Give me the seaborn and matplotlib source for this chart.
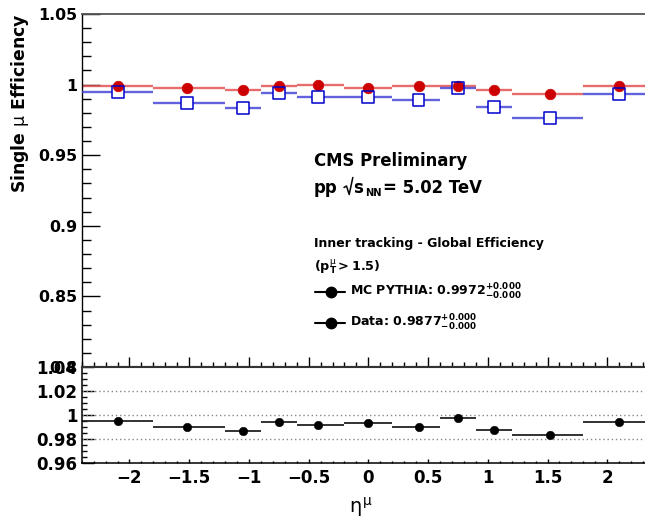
import numpy as np
import pandas as pd
import matplotlib
matplotlib.use("Agg")
import matplotlib.pyplot as plt
import seaborn as sns
from matplotlib.lines import Line2D
from matplotlib.ticker import FixedLocator, FixedFormatter, MultipleLocator

# ---------------- data ----------------
bin_lo = [-2.4, -1.8, -1.2, -0.9, -0.6, -0.2, 0.2, 0.6, 0.9, 1.2, 1.8]
bin_hi = [-1.8, -1.2, -0.9, -0.6, -0.2, 0.2, 0.6, 0.9, 1.2, 1.8, 2.4]
eta_points = [-2.1, -1.52, -1.05, -0.75, -0.42, 0.0, 0.42, 0.75, 1.05, 1.52, 2.1]
eff_mc = [0.9992, 0.9973, 0.9964, 0.9993, 0.9995, 0.9976, 0.9990, 0.9990, 0.9962, 0.9931, 0.9992]
eff_data = [0.9945, 0.9872, 0.9837, 0.9938, 0.9914, 0.9910, 0.9889, 0.9974, 0.9843, 0.9764, 0.9936]
ratio = [0.9953, 0.9900, 0.9869, 0.9942, 0.9917, 0.9933, 0.9900, 0.9980, 0.9880, 0.9833, 0.9942]

x_ticks = [-2, -1.5, -1, -0.5, 0, 0.5, 1, 1.5, 2]
x_labels = ["\u22122", "\u22121.5", "\u22121", "\u22120.5", "0", "0.5", "1", "1.5", "2"]
top_yticks = [0.8, 0.85, 0.9, 0.95, 1.0, 1.05]
top_ylabels = ["0.8", "0.85", "0.9", "0.95", "1", "1.05"]
rat_yticks = [0.96, 0.98, 1.0, 1.02, 1.04]
rat_ylabels = ["0.96", "0.98", "1", "1.02", "1.04"]
rat_lines = [0.98, 1.0, 1.02]

mc_label = r"MC PYTHIA: $0.9972^{+0.000}_{-0.000}$"
data_label = r"Data: $0.9877^{+0.000}_{-0.000}$"

df = pd.DataFrame({"eta": eta_points, "lo": bin_lo, "hi": bin_hi,
                   "mc": eff_mc, "data": eff_data, "ratio": ratio})

# ---------------- style ----------------
sns.set_theme(style="ticks")
plt.rcParams["font.family"] = ["DejaVu Sans"]
plt.rcParams["mathtext.fontset"] = "custom"
plt.rcParams["mathtext.rm"] = "DejaVu Sans:bold"
plt.rcParams["mathtext.bf"] = "DejaVu Sans:bold"
plt.rcParams["mathtext.sf"] = "DejaVu Sans:bold"
plt.rcParams["mathtext.it"] = "DejaVu Sans:weight=normal"
for k in ["text.color", "axes.labelcolor", "xtick.color", "ytick.color", "axes.edgecolor"]:
    plt.rcParams[k] = "black"

W, H = 645, 520
fig = plt.figure(figsize=(W / 100, H / 100), dpi=100)

def fx(px):
    return px / W

def fy(py):
    return 1 - py / H

left, right = 81.7, 655.0
ax1 = fig.add_axes([fx(left), fy(367), fx(right) - fx(left), fy(14) - fy(367)])
ax2 = fig.add_axes([fx(left), fy(463.3), fx(right) - fx(left), fy(367) - fy(463.3)])

RED_M = "#cc0000"
RED_L = "#e35252"
BLUE_M = "#0000cc"
BLUE_L = "#4646d8"

# ---------------- top panel ----------------
ax1.hlines(df["mc"], df["lo"], df["hi"], colors=RED_L, lw=1.7, alpha=0.85, zorder=2)
ax1.hlines(df["data"], df["lo"], df["hi"], colors=BLUE_L, lw=1.7, alpha=0.85, zorder=3)
sns.scatterplot(data=df, x="eta", y="data", marker="s", s=8.6 ** 2, color="white",
                edgecolor="none", linewidth=0, ax=ax1, zorder=4, legend=False)
sns.scatterplot(data=df, x="eta", y="mc", marker="o", s=7.6 ** 2, color=RED_M,
                edgecolor=RED_M, linewidth=0.5, ax=ax1, zorder=5, legend=False)
sns.scatterplot(data=df, x="eta", y="data", marker="s", s=8.6 ** 2, facecolor="none",
                edgecolor=BLUE_M, linewidth=1.1, ax=ax1, zorder=6, legend=False)

ax1.set_xlim(-2.4, 2.4)
ax1.set_ylim(0.8, 1.05)
ax1.set_xlabel("")
ax1.set_ylabel("")
ax1.yaxis.set_major_locator(FixedLocator(top_yticks))
ax1.yaxis.set_major_formatter(FixedFormatter(top_ylabels))
ax1.yaxis.set_minor_locator(MultipleLocator(0.01))
ax1.xaxis.set_major_locator(FixedLocator(x_ticks))
ax1.xaxis.set_minor_locator(MultipleLocator(0.1))
ax1.tick_params(axis="y", which="major", direction="in", length=13, width=1, pad=3,
                labelsize=11.4, left=True, right=False)
ax1.tick_params(axis="y", which="minor", direction="in", length=6.5, width=1, left=True, right=False)
ax1.tick_params(axis="x", which="major", direction="in", length=7, width=1,
                labelbottom=False, bottom=True, top=False)
ax1.tick_params(axis="x", which="minor", direction="in", length=3.6, width=1, bottom=True, top=False)
for lab in ax1.get_yticklabels():
    lab.set_fontweight("bold")
ax1.spines["top"].set_color("#555555")
ax1.spines["top"].set_linewidth(1.3)
ax1.spines["left"].set_color("black")
ax1.spines["left"].set_linewidth(1.0)
ax1.spines["bottom"].set_color("#333333")
ax1.spines["bottom"].set_linewidth(1.5)
ax1.spines["right"].set_visible(False)

# ---------------- ratio panel ----------------
for v in rat_lines:
    ax2.axhline(v, color="#888888", lw=1.0, ls=(0, (1, 2)), zorder=1)
ax2.hlines(df["ratio"], df["lo"], df["hi"], colors="#222222", lw=1.3, zorder=2)
sns.scatterplot(data=df, x="eta", y="ratio", marker="o", s=6.2 ** 2, color="black",
                edgecolor="black", linewidth=0.3, ax=ax2, zorder=3, legend=False)
ax2.set_xlim(-2.4, 2.4)
ax2.set_ylim(0.96, 1.04)
ax2.set_ylabel("")
ax2.set_xlabel("")
ax2.yaxis.set_major_locator(FixedLocator(rat_yticks))
ax2.yaxis.set_major_formatter(FixedFormatter(rat_ylabels))
ax2.yaxis.set_minor_locator(MultipleLocator(0.005))
ax2.xaxis.set_major_locator(FixedLocator(x_ticks))
ax2.xaxis.set_major_formatter(FixedFormatter(x_labels))
ax2.xaxis.set_minor_locator(MultipleLocator(0.1))
ax2.tick_params(axis="y", which="major", direction="in", length=8.6, width=1, pad=3,
                labelsize=12, left=True, right=False)
ax2.tick_params(axis="y", which="minor", direction="in", length=3.6, width=1, left=True, right=False)
ax2.tick_params(axis="x", which="major", direction="in", length=3, width=1, pad=4.3,
                labelsize=12, bottom=True, top=False)
ax2.tick_params(axis="x", which="minor", direction="in", length=1.6, width=1, bottom=True, top=False)
for lab in ax2.get_yticklabels() + ax2.get_xticklabels():
    lab.set_fontweight("bold")
for s in ["left", "bottom"]:
    ax2.spines[s].set_color("black")
    ax2.spines[s].set_linewidth(1.1)
ax2.spines["top"].set_color("#333333")
ax2.spines["top"].set_linewidth(1.5)
ax2.spines["right"].set_visible(False)

# ---------------- axis titles ----------------
fig.text(fx(20.5), fy(13), r"Single $\mu$ Efficiency", rotation=90, ha="center", va="top",
         fontsize=12.4, fontweight="bold")
fig.text(fx(361), fy(507), r"$\eta^{\mu}$", ha="center", va="center", fontsize=14)

# ---------------- annotations ----------------
fig.text(fx(314), fy(165.7), "CMS Preliminary", ha="left", va="baseline", fontsize=11.9, fontweight="bold")
fig.text(fx(314), fy(193), "pp", ha="left", va="baseline", fontsize=11.9, fontweight="bold")
# radical sign (ROOT-style #sqrt)
fig.add_artist(Line2D([fx(344), fx(346.5), fx(349.2), fx(352.8)],
                      [fy(187.5), fy(186), fy(194.5), fy(177.5)],
                      color="black", lw=1.1, transform=fig.transFigure))
fig.text(fx(353.5), fy(193), "s", ha="left", va="baseline", fontsize=11.9, fontweight="bold")
fig.text(fx(365), fy(195.5), "NN", ha="left", va="baseline", fontsize=7.1, fontweight="bold")
fig.text(fx(383), fy(193), "= 5.02 TeV", ha="left", va="baseline", fontsize=11.9, fontweight="bold")

fig.text(fx(314), fy(247), "Inner tracking - Global Efficiency", ha="left", va="baseline",
         fontsize=9, fontweight="bold")
fig.text(fx(314), fy(271), r"$(\mathbf{p}_{\mathbf{T}}^{\mu}>1.5)$", ha="left", va="baseline",
         fontsize=9.2, fontweight="bold")

for ypix, lab in [(291.7, mc_label), (322.7, data_label)]:
    fig.add_artist(Line2D([fx(315), fx(345)], [fy(ypix), fy(ypix)], color="black", lw=1.5,
                          transform=fig.transFigure))
    fig.add_artist(Line2D([fx(330.5)], [fy(ypix)], color="black", marker="o", ms=7.5,
                          transform=fig.transFigure))
    fig.text(fx(350), fy(ypix + 3.6), lab, ha="left", va="baseline", fontsize=9, fontweight="bold")

fig.savefig("out.png", dpi=100)
